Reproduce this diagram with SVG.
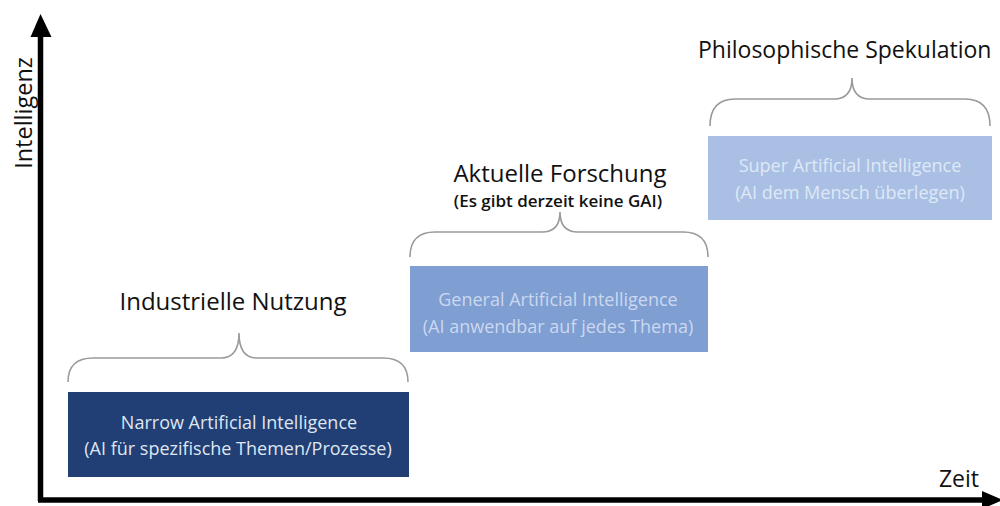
<svg xmlns="http://www.w3.org/2000/svg" width="1000" height="506" viewBox="0 0 1000 506">
  <style>
    .title { font-family: "Open Sans", "Noto Sans", sans-serif; fill: #111; text-anchor: middle; }
    .box-text { font-family: "Open Sans", "Noto Sans", sans-serif; font-size: 18px; text-anchor: middle; }
    .brace { fill: none; stroke: #9a9a9a; stroke-width: 1.6; }
    .axis { stroke: #000; stroke-width: 5.5; fill: none; }
  </style>
  <rect width="1000" height="506" fill="#ffffff"/>

  <g id="axes">
    <path class="axis" d="M40.5,501 L40.5,34"/>
    <polygon points="40.5,14 30.5,37 51.5,37" fill="#000"/>
    <path class="axis" d="M38,500 L985,500"/>
    <polygon points="1003,500 982,491 982,509" fill="#000"/>
    <text class="title" font-size="23.5" transform="translate(32,113) rotate(-90)">Intelligenz</text>
    <text class="title" font-size="23" x="959" y="487">Zeit</text>
  </g>

  <g id="connectors">
    <path class="brace" d="M68,382 Q68,358 93,358 L221,358 Q239,358 239,333 Q239,358 257,358 L383,358 Q408,358 408,382"/>
    <path class="brace" d="M410,257 Q410,232 435,232 L542,232 Q560,232 560,212 Q560,232 578,232 L683,232 Q708,232 708,257"/>
    <path class="brace" d="M710,126 Q710,99 735,99 L834,99 Q852,99 852,78 Q852,99 870,99 L965,99 Q990,99 990,126"/>
  </g>

  <g id="narrow">
    <rect x="68" y="392" width="341" height="85" fill="#213f74"/>
    <text class="box-text" fill="#dfe6f2" x="239" y="429">Narrow Artificial Intelligence</text>
    <text class="box-text" fill="#dfe6f2" x="238" y="455">(AI für spezifische Themen/Prozesse)</text>
  </g>
  <g id="narrow-label">
    <text class="title" font-size="24" x="233" y="310">Industrielle Nutzung</text>
  </g>

  <g id="general">
    <rect x="410" y="266" width="298" height="86" fill="#7f9ed2"/>
    <text class="box-text" fill="#cbd8ef" x="558" y="306">General Artificial Intelligence</text>
    <text class="box-text" fill="#cbd8ef" x="558" y="333">(AI anwendbar auf jedes Thema)</text>
  </g>
  <g id="general-label">
    <text class="title" font-size="24" x="560" y="182">Aktuelle Forschung</text>
    <text class="title" font-size="17" font-weight="600" x="558" y="207">(Es gibt derzeit keine GAI)</text>
  </g>

  <g id="super">
    <rect x="708" y="136" width="284" height="84" fill="#a9c0e4"/>
    <text class="box-text" fill="#dfe8f6" x="850" y="172">Super Artificial Intelligence</text>
    <text class="box-text" fill="#dfe8f6" x="850" y="199">(AI dem Mensch überlegen)</text>
  </g>
  <g id="super-label">
    <text class="title" font-size="23" x="698" y="58" style="text-anchor:start">Philosophische Spekulation</text>
  </g>
</svg>
